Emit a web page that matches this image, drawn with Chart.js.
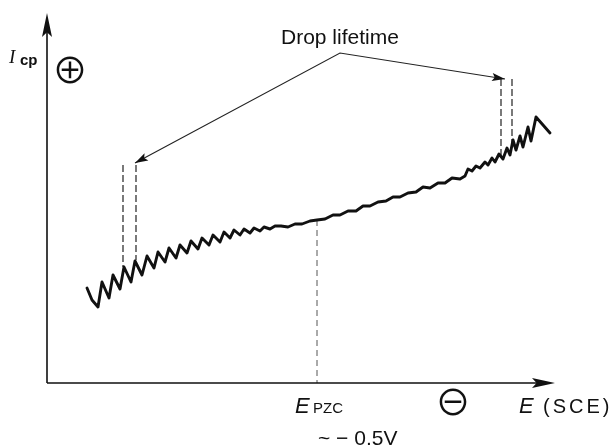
<!DOCTYPE html>
<html>
<head>
<meta charset="utf-8">
<script src="https://cdn.jsdelivr.net/npm/chart.js@4"></script>
<style>
  html, body { margin: 0; padding: 0; background: #fff; }
  #wrap { width: 613px; height: 447px; }
</style>
</head>
<body>
<div id="wrap"><canvas id="chart-canvas" width="613" height="447"></canvas></div>
<script>
// ### data (arbitrary potential / current units) ###
const CURVE_E = [40, 45, 51, 55, 62, 66, 73, 77, 84, 88, 95, 100, 107, 111, 118, 122, 129, 133, 140, 144,
  151, 155, 162, 166, 173, 177, 183, 187, 193, 197, 203, 207, 213, 217, 223, 228,
  234, 241, 248, 255, 263, 270, 278, 286, 293, 301, 309, 316, 323, 331, 339, 346, 353, 361, 369, 376,
  383, 391, 398, 405, 413, 418,
  421, 425, 429, 433, 438, 441, 445, 448, 452, 456, 460, 463, 466, 469, 473, 476, 481, 484, 489, 503];
const CURVE_I = [95, 83, 76, 101, 85, 108, 94, 116, 101, 122, 108, 127, 115, 131, 121, 135, 125, 138, 130, 142,
  134, 145, 138, 148, 141, 151, 145, 153, 148, 154, 150, 155, 152, 156, 154, 157,
  157, 156, 159, 159, 162, 163, 164, 168, 168, 172, 172, 177, 177, 181, 182, 186, 186, 190, 191, 196,
  195, 200, 200, 205, 204, 207,
  214, 212, 217, 215, 221, 218, 225, 221, 229, 224, 235, 228, 243, 233, 247, 236, 256, 242, 266, 250];

// drop lifetime markers (E position, top, bottom)
const DROP_MARK_E = [76, 89, 454, 465];
const DROP_MARK_TOP = [218, 218, 304, 304];
const DROP_MARK_BOTTOM = [116, 123, 228, 240];

// annotation arrow: left tip, apex, right tip
const ARROW_E = [88, 293, 458];
const ARROW_I = [220, 330, 304];

// point of zero charge
const PZC_E = 270;
const PZC_I = 163;

const E_MAX = 508;
const I_MAX = 370;

const BLACK = "#111";

function zip(xs, ys) {
  return xs.map((x, i) => ({ x: x, y: ys[i] }));
}

function buildDatasets() {
  const sets = [];
  sets.push({
    data: zip(CURVE_E, CURVE_I),
    borderColor: BLACK,
    borderWidth: 2.9,
    borderJoinStyle: "round",
    borderCapStyle: "round",
  });
  for (let k = 0; k < DROP_MARK_E.length; k++) {
    sets.push({
      data: [
        { x: DROP_MARK_E[k], y: DROP_MARK_TOP[k] },
        { x: DROP_MARK_E[k], y: DROP_MARK_BOTTOM[k] },
      ],
      borderColor: "#222",
      borderWidth: 1.2,
      borderDash: [7, 3],
    });
  }
  sets.push({
    data: [{ x: PZC_E, y: PZC_I }, { x: PZC_E, y: 0 }],
    borderColor: "#555",
    borderWidth: 1,
    borderDash: [6, 4],
  });
  sets.push({
    data: zip(ARROW_E, ARROW_I),
    borderColor: "#222",
    borderWidth: 1.1,
  });
  return sets.map((s) => Object.assign({ showLine: true, pointRadius: 0, tension: 0, fill: false }, s));
}

// ### drawing helpers ###
function arrowHead(ctx, tipX, tipY, fromX, fromY, len, half) {
  const a = Math.atan2(tipY - fromY, tipX - fromX);
  const cos = Math.cos(a), sin = Math.sin(a);
  const bx = tipX - len * cos, by = tipY - len * sin;
  const nx = tipX - len * 0.8 * cos, ny = tipY - len * 0.8 * sin;
  ctx.beginPath();
  ctx.moveTo(tipX, tipY);
  ctx.lineTo(bx - half * sin, by + half * cos);
  ctx.lineTo(nx, ny);
  ctx.lineTo(bx + half * sin, by - half * cos);
  ctx.closePath();
  ctx.fill();
}

function text(ctx, str, x, y, font, spacing) {
  ctx.font = font;
  ctx.letterSpacing = spacing || "0px";
  ctx.fillText(str, x, y);
  ctx.letterSpacing = "0px";
}

const decorPlugin = {
  id: "decor",
  afterDatasetsDraw(chart) {
    const ctx = chart.ctx;
    const xs = chart.scales.x;
    const ys = chart.scales.y;
    const x0 = xs.getPixelForValue(0);
    const y0 = ys.getPixelForValue(0);
    const xEnd = xs.getPixelForValue(E_MAX);
    const yEnd = ys.getPixelForValue(I_MAX);

    ctx.save();
    ctx.strokeStyle = BLACK;
    ctx.fillStyle = BLACK;
    ctx.lineWidth = 1.6;

    // axes
    ctx.beginPath();
    ctx.moveTo(x0, y0);
    ctx.lineTo(x0, yEnd + 10);
    ctx.moveTo(x0, y0);
    ctx.lineTo(xEnd - 10, y0);
    ctx.stroke();
    arrowHead(ctx, x0, yEnd, x0, y0, 24, 5);
    arrowHead(ctx, xEnd, y0, x0, y0, 23, 5);

    // annotation arrow heads
    const px = (i) => xs.getPixelForValue(ARROW_E[i]);
    const py = (i) => ys.getPixelForValue(ARROW_I[i]);
    arrowHead(ctx, px(0), py(0), px(1), py(1), 13, 4);
    arrowHead(ctx, px(2), py(2), px(1), py(1), 13, 4);

    // labels
    ctx.textBaseline = "alphabetic";
    ctx.textAlign = "left";
    text(ctx, "Drop lifetime", 281, 44, "21px 'Liberation Sans', Arial, sans-serif");
    text(ctx, "I", 9, 63, "italic 19px 'Liberation Serif', serif");
    text(ctx, "cp", 20, 65, "bold 15px 'Liberation Sans', Arial, sans-serif");
    text(ctx, "E", 295, 413, "italic 22px 'Liberation Sans', Arial, sans-serif");
    text(ctx, "PZC", 313, 413, "15px 'Liberation Sans', Arial, sans-serif");
    text(ctx, "E", 519, 413, "italic 22px 'Liberation Sans', Arial, sans-serif");
    text(ctx, "(SCE)", 543, 413, "20px 'Liberation Sans', Arial, sans-serif", "3px");
    text(ctx, "~ \u2212 0.5V", 318, 445, "21px 'Liberation Sans', Arial, sans-serif");

    ctx.textAlign = "center";
    ctx.textBaseline = "middle";
    text(ctx, "\u2295", 70, 70, "36px 'Noto Sans CJK JP', 'DejaVu Sans', sans-serif");
    text(ctx, "\u2296", 453, 402, "36px 'Noto Sans CJK JP', 'DejaVu Sans', sans-serif");
    ctx.restore();
  },
};

// ### chart ###
function renderChart() {
  const chartCanvas = document.getElementById("chart-canvas");
  new Chart(chartCanvas, {
    type: "scatter",
    data: { datasets: buildDatasets() },
    options: {
      responsive: false,
      animation: false,
      events: [],
      layout: { padding: { left: 47, right: 58, top: 13, bottom: 64 } },
      plugins: { legend: { display: false }, tooltip: { enabled: false } },
      scales: {
        x: { type: "linear", min: 0, max: E_MAX, display: false },
        y: { type: "linear", min: 0, max: I_MAX, display: false },
      },
    },
    plugins: [decorPlugin],
  });
}

renderChart();
</script>
</body>
</html>
